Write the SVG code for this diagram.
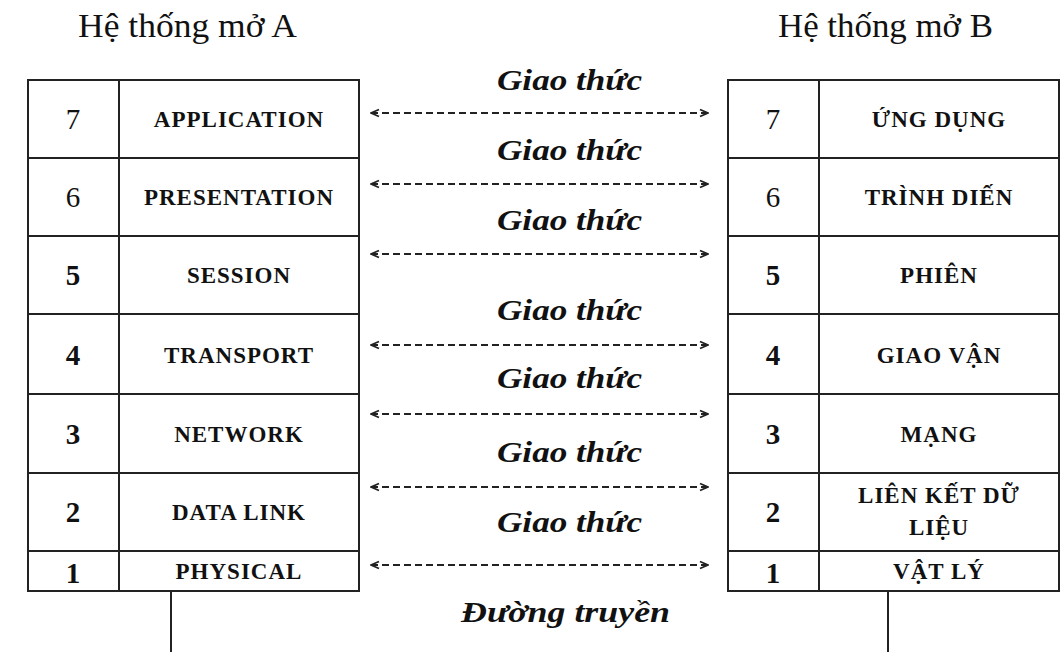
<svg xmlns="http://www.w3.org/2000/svg" width="1064" height="652" viewBox="0 0 1064 652">
<defs>
<marker id="ah" viewBox="0 0 10 10" refX="9" refY="5" markerWidth="10" markerHeight="10" markerUnits="userSpaceOnUse" orient="auto-start-reverse">
<path d="M1,1.5 L9,5 L1,8.5" fill="none" stroke="#222" stroke-width="1.8"/>
</marker>
<style>
.cell{fill:#fff;stroke:#222;stroke-width:2}
.ln{stroke:#222;stroke-width:2;fill:none}
.num{font-family:"Liberation Serif",serif;font-size:29px;text-anchor:middle;fill:#111}
.b{font-weight:bold}
.lbl{font-family:"Liberation Serif",serif;font-size:23px;font-weight:bold;text-anchor:middle;fill:#111;letter-spacing:1px}
.title{font-family:"Liberation Serif",serif;font-size:33px;fill:#111}
.gt{font-family:"Liberation Serif",serif;font-size:30px;font-weight:bold;font-style:italic;fill:#111}
.arr{stroke:#222;stroke-width:1.8;stroke-dasharray:7 4;fill:none;marker-start:url(#ah);marker-end:url(#ah)}
</style>
</defs>
<rect width="1064" height="652" fill="#fff"/>
<text class="title" x="78" y="37" textLength="219" lengthAdjust="spacingAndGlyphs">Hệ thống mở A</text>
<text class="title" x="778" y="37" textLength="215" lengthAdjust="spacingAndGlyphs">Hệ thống mở B</text>

<g id="systemA">
<rect class="cell" x="28" y="80" width="331" height="511"/>
<path class="ln" d="M119,80 V591 M28,158 H359 M28,236 H359 M28,314 H359 M28,394 H359 M28,473 H359 M28,551 H359"/>
<line class="ln" x1="171" y1="591" x2="171" y2="652"/>
<g id="a7"><text class="num" x="73" y="129">7</text><text class="lbl" x="239" y="127">APPLICATION</text></g>
<g id="a6"><text class="num" x="73" y="207">6</text><text class="lbl" x="239" y="205">PRESENTATION</text></g>
<g id="a5"><text class="num b" x="73" y="285">5</text><text class="lbl" x="239" y="283">SESSION</text></g>
<g id="a4"><text class="num b" x="73" y="365">4</text><text class="lbl" x="239" y="363">TRANSPORT</text></g>
<g id="a3"><text class="num b" x="73" y="444">3</text><text class="lbl" x="239" y="442">NETWORK</text></g>
<g id="a2"><text class="num b" x="73" y="522">2</text><text class="lbl" x="239" y="520">DATA LINK</text></g>
<g id="a1"><text class="num b" x="73" y="583">1</text><text class="lbl" x="239" y="579">PHYSICAL</text></g>
</g>

<g id="systemB">
<rect class="cell" x="728" y="80" width="331" height="511"/>
<path class="ln" d="M819,80 V591 M728,158 H1059 M728,236 H1059 M728,314 H1059 M728,394 H1059 M728,473 H1059 M728,551 H1059"/>
<line class="ln" x1="888" y1="591" x2="888" y2="652"/>
<g id="b7"><text class="num" x="773" y="129">7</text><text class="lbl" x="939" y="127">ỨNG DỤNG</text></g>
<g id="b6"><text class="num" x="773" y="207">6</text><text class="lbl" x="939" y="205">TRÌNH DIẾN</text></g>
<g id="b5"><text class="num b" x="773" y="285">5</text><text class="lbl" x="939" y="283">PHIÊN</text></g>
<g id="b4"><text class="num b" x="773" y="365">4</text><text class="lbl" x="939" y="363">GIAO VẬN</text></g>
<g id="b3"><text class="num b" x="773" y="444">3</text><text class="lbl" x="939" y="442">MẠNG</text></g>
<g id="b2"><text class="num b" x="773" y="522">2</text><text class="lbl" x="939" y="503">LIÊN KẾT DỮ</text><text class="lbl" x="939" y="535">LIỆU</text></g>
<g id="b1"><text class="num b" x="773" y="583">1</text><text class="lbl" x="939" y="579">VẬT LÝ</text></g>
</g>

<g id="connectors">
<line class="arr" x1="371" y1="113" x2="708" y2="113"/>
<line class="arr" x1="371" y1="184" x2="708" y2="184"/>
<line class="arr" x1="371" y1="254" x2="708" y2="254"/>
<line class="arr" x1="371" y1="345" x2="708" y2="345"/>
<line class="arr" x1="371" y1="414" x2="708" y2="414"/>
<line class="arr" x1="371" y1="487" x2="708" y2="487"/>
<line class="arr" x1="371" y1="565" x2="708" y2="565"/>
</g>

<g id="labels">
<text class="gt" x="497" y="90" textLength="145" lengthAdjust="spacingAndGlyphs">Giao thức</text>
<text class="gt" x="497" y="160" textLength="145" lengthAdjust="spacingAndGlyphs">Giao thức</text>
<text class="gt" x="497" y="230" textLength="145" lengthAdjust="spacingAndGlyphs">Giao thức</text>
<text class="gt" x="497" y="320" textLength="145" lengthAdjust="spacingAndGlyphs">Giao thức</text>
<text class="gt" x="497" y="388" textLength="145" lengthAdjust="spacingAndGlyphs">Giao thức</text>
<text class="gt" x="497" y="462" textLength="145" lengthAdjust="spacingAndGlyphs">Giao thức</text>
<text class="gt" x="497" y="532" textLength="145" lengthAdjust="spacingAndGlyphs">Giao thức</text>
<text class="gt" x="461" y="622" textLength="209" lengthAdjust="spacingAndGlyphs">Đường truyền</text>
</g>
</svg>
